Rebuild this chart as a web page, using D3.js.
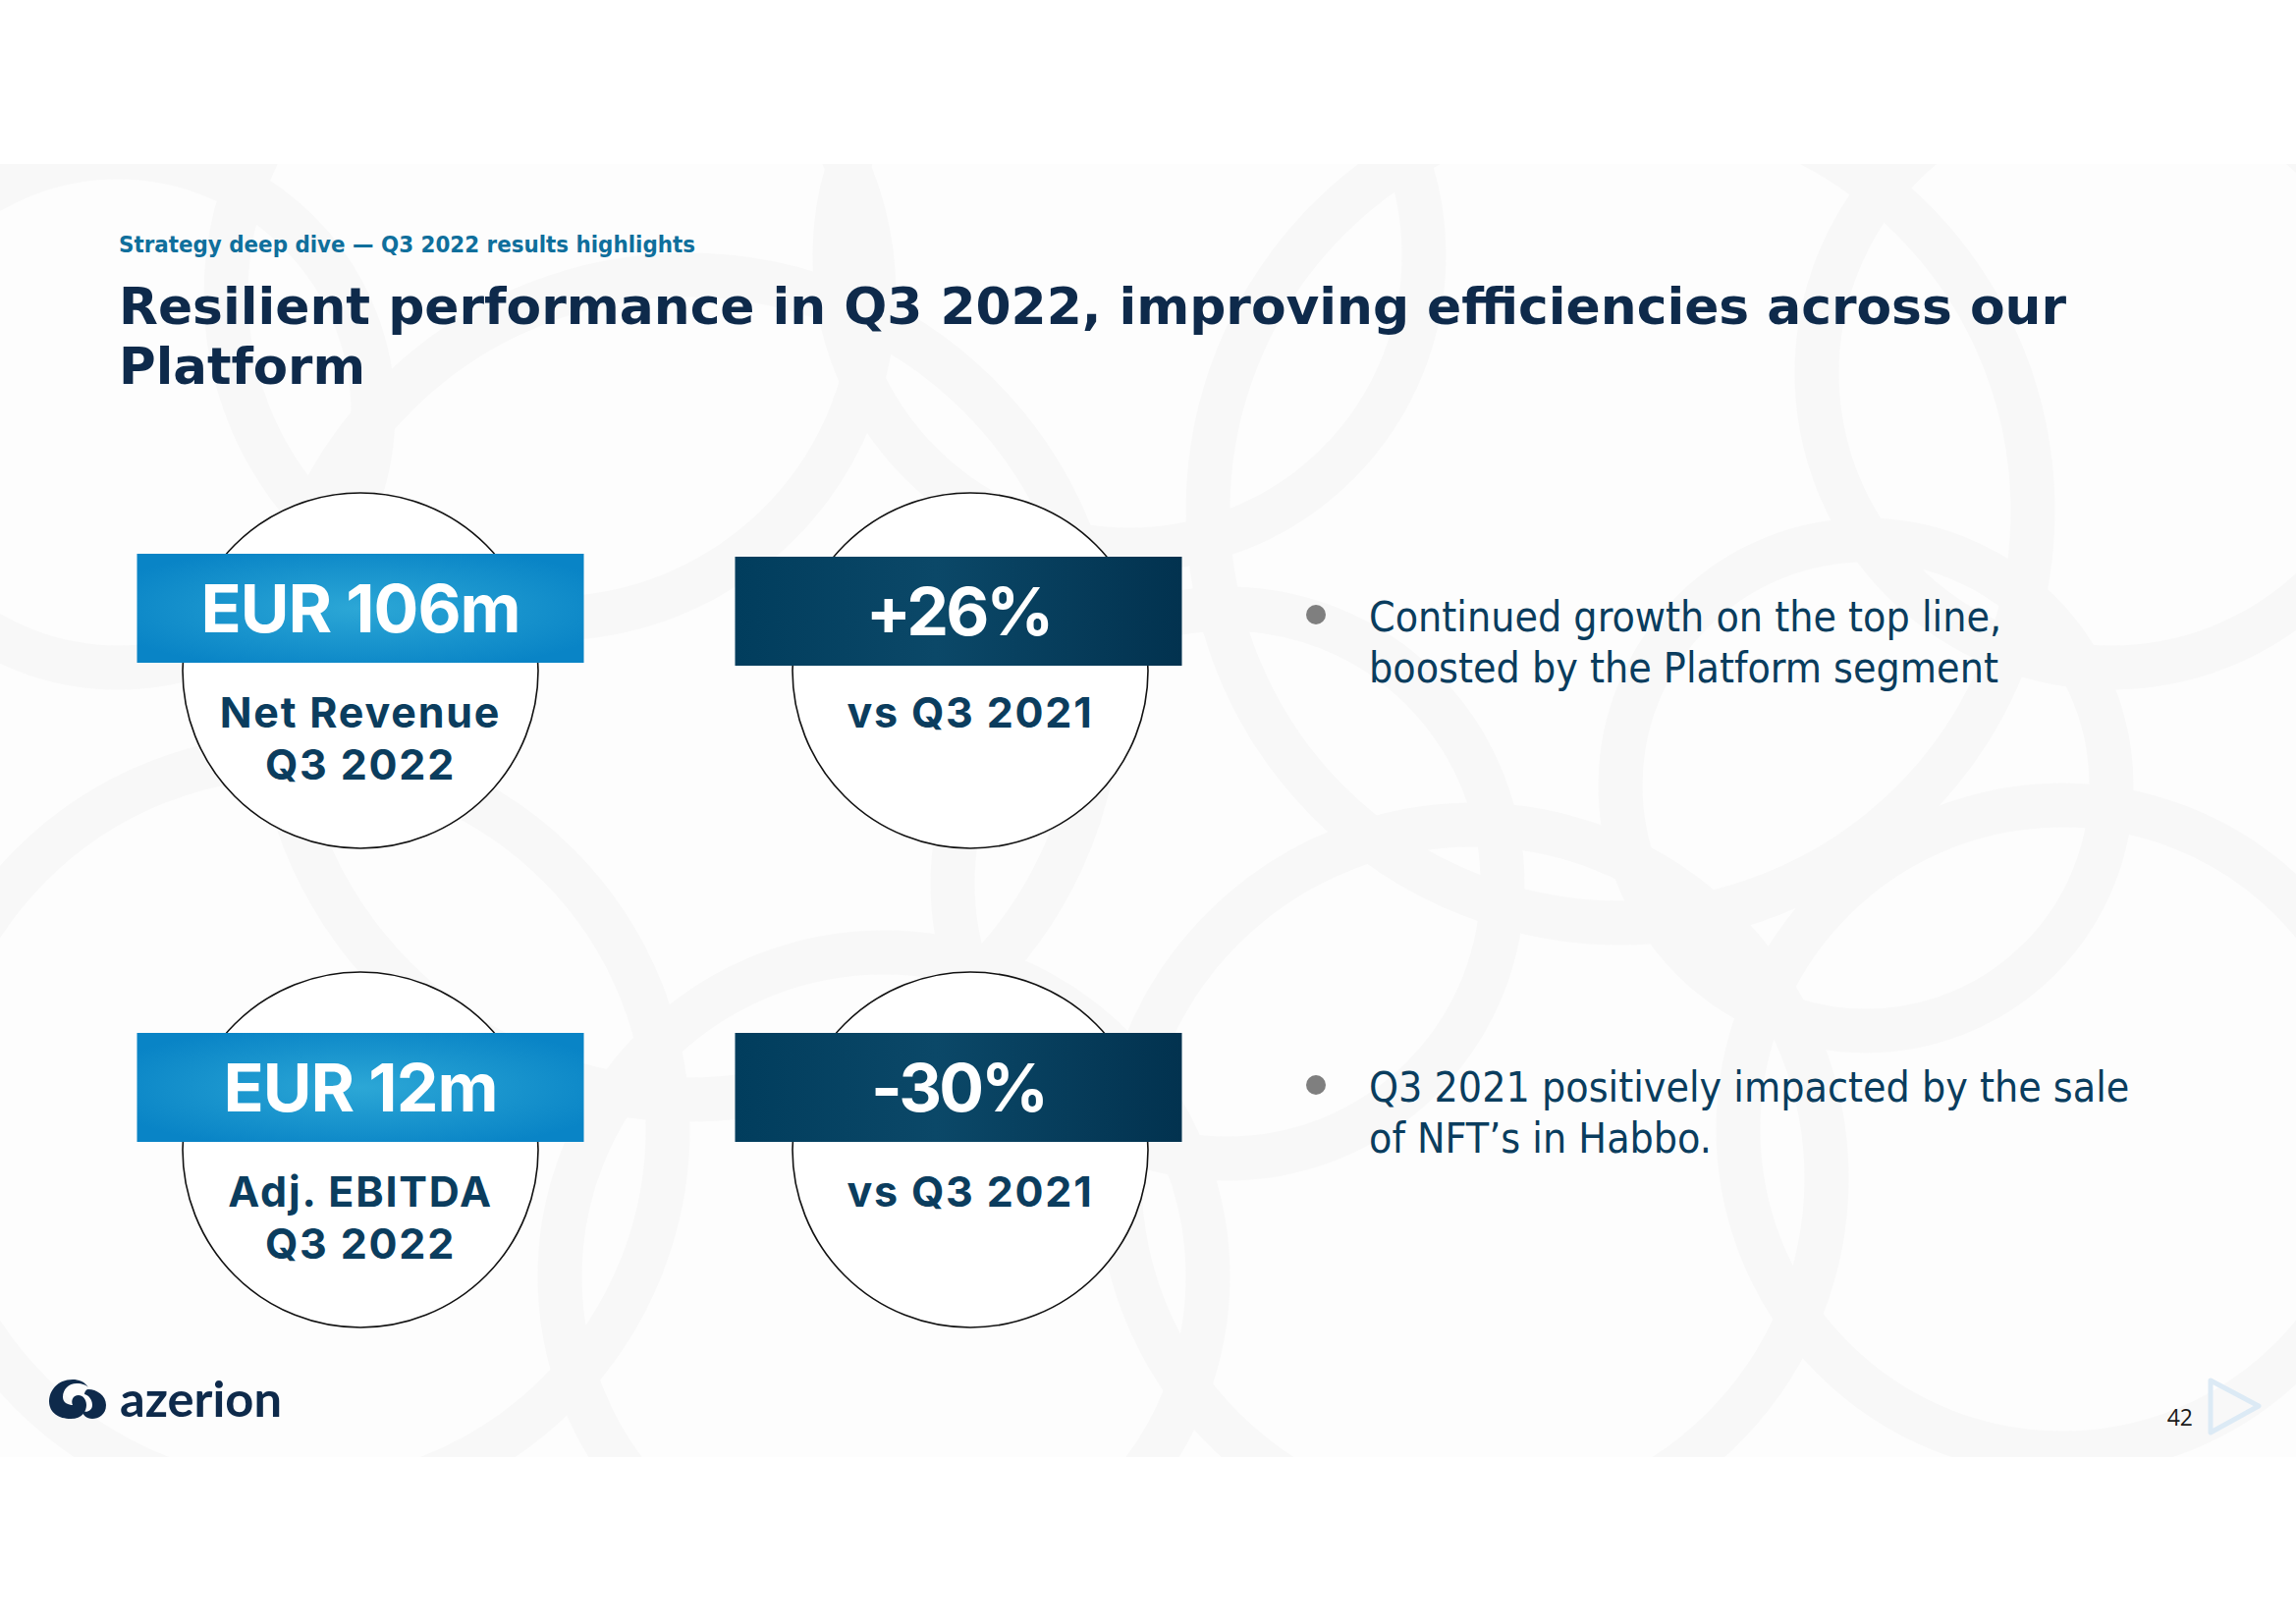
<!DOCTYPE html>
<html>
<head>
<meta charset="utf-8">
<script src="https://cdn.jsdelivr.net/npm/d3@7"></script>
<style>
  html, body { margin: 0; padding: 0; background: #ffffff; }
  svg { display: block; }
</style>
</head>
<body>
<svg id="slide" width="2338" height="1653"></svg>
<script>
// ---------- DATA ----------
const kicker = "Strategy deep dive — Q3 2022 results highlights";
const titleLines = ["Resilient performance in Q3 2022, improving efficiencies across our", "Platform"];
const rows = ["revenue", "ebitda"];
const kpiValues = ["EUR 106m", "EUR 12m"];
const kpiLabels = [["Net Revenue", "Q3 2022"], ["Adj. EBITDA", "Q3 2022"]];
const changeValues = ["+26%", "-30%"];
const changeLabels = [["vs Q3 2021"], ["vs Q3 2021"]];
const bullets = [
  ["Continued growth on the top line,", "boosted by the Platform segment"],
  ["Q3 2021 positively impacted by the sale", "of NFT\u2019s in Habbo."]
];
const pageNumber = "42";
const brand = "azerion";

// ---------- LAYOUT ----------
const W = 2338, H = 1653;
const svg = d3.select("#slide");
const defs = svg.append("defs");

const navy = "#0e2a4b";
const teal = "#0b3d5e";

// gradients
const g1 = defs.append("radialGradient").attr("id", "gLight")
  .attr("cx", "50%").attr("cy", "50%").attr("r", "60%");
g1.append("stop").attr("offset", "0%").attr("stop-color", "#2ca7d6");
g1.append("stop").attr("offset", "100%").attr("stop-color", "#0984c6");

const g2 = defs.append("linearGradient").attr("id", "gDark")
  .attr("x1", "0%").attr("x2", "100%").attr("y1", "0%").attr("y2", "0%");
g2.append("stop").attr("offset", "0%").attr("stop-color", "#013d5d");
g2.append("stop").attr("offset", "45%").attr("stop-color", "#0b4868");
g2.append("stop").attr("offset", "100%").attr("stop-color", "#02324f");

// faint background pattern band
defs.append("clipPath").attr("id", "band")
  .append("rect").attr("x", 0).attr("y", 167).attr("width", W).attr("height", 1317);
const bg = svg.append("g").attr("clip-path", "url(#band)");
bg.append("rect").attr("x", 0).attr("y", 167).attr("width", W).attr("height", 1317).attr("fill", "#fdfdfd");
const swirls = [
  [120, 420, 260], [560, 300, 330], [1150, 260, 300], [1650, 520, 420], [2150, 380, 300],
  [300, 1150, 380], [900, 1300, 330], [1500, 1200, 360], [2100, 1150, 330], [1900, 800, 250],
  [700, 700, 420], [1250, 900, 280]
];
bg.selectAll("circle.sw").data(swirls).join("circle")
  .attr("class", "sw")
  .attr("cx", d => d[0]).attr("cy", d => d[1]).attr("r", d => d[2])
  .attr("fill", "none").attr("stroke", "#f8f8f8").attr("stroke-width", 45);

// ---------- HEADER ----------
function fit(sel, width) {
  sel.each(function () {
    const n = this.getComputedTextLength();
    if (Math.abs(n - width) > 2) {
      d3.select(this).attr("textLength", width).attr("lengthAdjust", "spacingAndGlyphs");
    }
  });
}

svg.append("text")
  .attr("x", 121).attr("y", 257)
  .attr("font-family", "'DejaVu Sans Condensed', 'DejaVu Sans', sans-serif")
  .attr("font-weight", "bold").attr("font-size", 23)
  .attr("fill", "#0f6f9c")
  .text(kicker)
  .call(fit, 587);

const titleWidths = [1983, 251];
svg.selectAll("text.title").data(titleLines).join("text")
  .attr("class", "title")
  .attr("x", 121).attr("y", (d, i) => 330 + i * 61)
  .attr("font-family", "'DejaVu Sans Condensed', 'DejaVu Sans', sans-serif")
  .attr("font-weight", "bold").attr("font-size", 52)
  .attr("fill", navy)
  .text(d => d)
  .each(function (d, i) { d3.select(this).call(fit, titleWidths[i]); });

// ---------- KPI CIRCLES ----------
const xCol = d3.scalePoint().domain(["kpi", "change"]).range([367, 988]);
const yRow = d3.scalePoint().domain(rows).range([683, 1171]);
const R = 181;
const boxW = 455, boxH = 111;

const cells = [];
rows.forEach((r, i) => {
  cells.push({ row: r, col: "kpi", value: kpiValues[i], labels: kpiLabels[i], fill: "url(#gLight)" });
  cells.push({ row: r, col: "change", value: changeValues[i], labels: changeLabels[i], fill: "url(#gDark)" });
});

const cell = svg.selectAll("g.cell").data(cells).join("g")
  .attr("class", "cell")
  .attr("transform", d => `translate(${xCol(d.col)},${yRow(d.row)})`);

cell.append("circle")
  .attr("r", R).attr("fill", "#ffffff")
  .attr("stroke", "#111111").attr("stroke-width", 1.6);

const box = cell.append("g")
  .attr("transform", d => `translate(${d.col === "change" ? -12 : 0},${d.col === "change" && d.row === "revenue" ? 3 : 0})`);

box.append("rect")
  .attr("x", -boxW / 2).attr("y", -119)
  .attr("width", boxW).attr("height", boxH)
  .attr("fill", d => d.fill);

box.append("text")
  .attr("text-anchor", "middle")
  .attr("y", -39)
  .attr("font-family", "Inter, 'Open Sans', sans-serif")
  .attr("font-weight", 700).attr("font-size", 68)
  .attr("letter-spacing", d => d.col === "change" ? -3 : -1)
  .attr("fill", "#ffffff")
  .text(d => d.value);

cell.selectAll("text.lbl").data(d => d.labels).join("text")
  .attr("class", "lbl")
  .attr("text-anchor", "middle")
  .attr("y", (d, i) => 58 + i * 53)
  .attr("font-family", "Inter, 'Open Sans', sans-serif")
  .attr("font-weight", 700).attr("font-size", 43)
  .attr("letter-spacing", 1.8)
  .attr("fill", teal)
  .text(d => d);

// ---------- BULLETS ----------
const yBullet = d3.scalePoint().domain(rows).range([626, 1105]);
const bl = svg.selectAll("g.bullet").data(bullets).join("g")
  .attr("class", "bullet")
  .attr("transform", (d, i) => `translate(1340,${yBullet(rows[i])})`);
bl.append("circle").attr("r", 10).attr("fill", "#7f7f7f");
bl.selectAll("text").data(d => d).join("text")
  .attr("x", 54).attr("y", (d, i) => 17 + i * 52)
  .attr("font-family", "'DejaVu Sans Condensed', 'DejaVu Sans', sans-serif")
  .attr("font-size", 42.5)
  .attr("fill", "#0a3d5e")
  .text(d => d);

// ---------- FOOTER ----------
const logo = svg.append("g").attr("transform", "translate(50,1403)");
logo.append("path")
  .attr("d", "M24,2 C8,2 0,14 0,24 C0,36 10,42 22,42 C34,42 38,34 38,28 C38,22 34,18 30,18 C24,18 22,24 24,28 C20,28 14,26 14,20 C14,12 20,6 28,6 C34,6 38,8 40,10 C36,4 30,2 24,2 Z")
  .attr("fill", navy);
logo.append("path")
  .attr("d", "M40,12 C48,12 58,18 58,28 C58,38 50,42 44,42 C38,42 34,38 34,34 C38,36 44,34 44,28 C44,22 40,18 36,17 C36,14 38,12 40,12 Z")
  .attr("fill", navy);
logo.append("text")
  .attr("x", 72).attr("y", 40)
  .attr("font-family", "Lato, 'Open Sans', sans-serif")
  .attr("font-weight", 700).attr("font-size", 50)
  .attr("fill", navy)
  .text(brand)
  .call(fit, 165);

svg.append("text")
  .attr("x", 2233).attr("y", 1452).attr("text-anchor", "end")
  .attr("font-family", "'Open Sans', sans-serif")
  .attr("font-size", 23).attr("fill", "#1a1a1a")
  .text(pageNumber);

svg.append("path")
  .attr("d", "M2251,1406 L2300,1432 L2251,1459 Z")
  .attr("fill", "none").attr("stroke", "#dceaf5").attr("stroke-width", 5)
  .attr("stroke-linejoin", "round");
</script>
</body>
</html>
